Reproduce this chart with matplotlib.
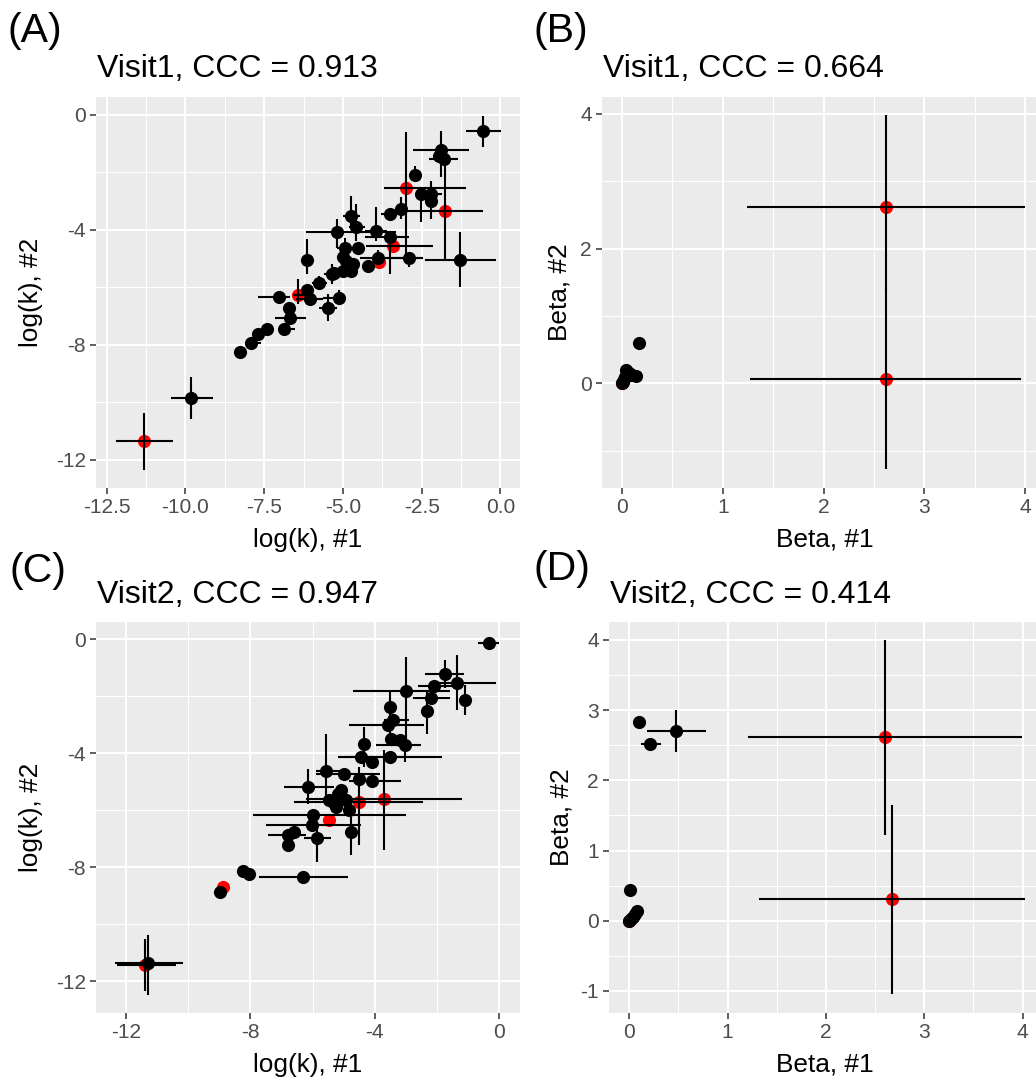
import numpy as np
import matplotlib
matplotlib.use("Agg")
import matplotlib.pyplot as plt
from matplotlib.ticker import FixedLocator

plt.rcParams["font.family"] = ["Liberation Sans", "DejaVu Sans"]

# ── Panel A: Visit1, log(k) ──────────────────────────────────────────────────
A_x   = [-11.32, -9.81, -8.26, -7.92, -7.70, -7.40, -6.88, -6.68, -6.71, -7.03,
         -6.43, -6.13, -6.06, -6.13, -5.76, -5.48, -5.13, -5.34, -5.00, -4.74,
         -4.95, -5.19, -4.74, -4.58, -4.53, -3.95, -3.89, -3.86, -3.52, -3.42,
         -2.89, -3.52, -3.15, -2.99, -2.70, -2.52, -2.19, -2.19, -1.75, -1.28,
         -1.89, -1.78, -0.57, -1.94, -4.69, -4.90, -5.27, -4.21, -5.00]
A_y   = [-11.36, -9.85, -8.26, -7.95, -7.64, -7.44, -7.44, -7.09, -6.71, -6.34,
         -6.27, -6.10, -6.42, -5.06, -5.87, -6.71, -6.36, -5.55, -5.43, -5.43,
         -4.62, -4.09, -3.51, -3.92, -4.62, -4.03, -4.97, -5.14, -4.27, -4.56,
         -5.00, -3.45, -3.28, -2.55, -2.08, -2.76, -2.76, -2.99, -3.36, -5.06,
         -1.24, -1.53, -0.55, -1.42, -5.20, -5.08, -5.49, -5.26, -4.95]
A_xlo = [-12.20, -10.47, -8.26, -8.12, -7.70, -7.40, -7.06, -7.17, -6.71, -7.70,
         -6.60, -6.13, -6.48, -6.13, -5.98, -5.75, -5.64, -5.60, -5.00, -4.74,
         -5.20, -6.16, -5.00, -4.80, -4.53, -4.30, -4.47, -3.86, -4.30, -4.28,
         -3.84, -3.80, -3.15, -3.70, -2.70, -2.52, -2.55, -2.19, -2.99, -2.38,
         -2.78, -2.26, -1.10, -1.94, -4.69, -4.90, -5.27, -4.21, -5.00]
A_xhi = [-10.39, -9.14, -8.26, -7.59, -7.70, -7.40, -6.53, -6.16, -6.71, -6.69,
         -6.20, -6.13, -5.64, -6.13, -5.50, -5.20, -4.90, -5.05, -5.00, -4.74,
         -4.70, -3.31, -4.45, -4.30, -4.53, -3.60, -2.47, -3.86, -2.90, -2.15,
         -2.47, -3.20, -3.15, -1.10, -2.70, -2.52, -1.85, -2.19, -0.57, -0.15,
         -0.99, -1.36, 0.02, -1.94, -4.69, -4.90, -5.27, -4.21, -5.00]
A_ylo = [-12.38, -10.60, -8.26, -7.95, -7.64, -7.44, -7.44, -7.09, -6.85, -6.34,
         -6.59, -6.10, -6.42, -5.55, -6.10, -7.17, -6.60, -5.90, -5.43, -5.43,
         -4.90, -4.62, -3.92, -4.40, -4.62, -4.38, -5.20, -5.14, -5.55, -4.56,
         -5.30, -3.45, -3.63, -5.02, -2.35, -3.74, -2.76, -3.63, -5.08, -6.01,
         -2.17, -1.53, -1.13, -1.42, -5.20, -5.08, -5.49, -5.26, -4.95]
A_yhi = [-10.38, -9.12, -8.26, -7.95, -7.64, -7.44, -7.44, -7.09, -6.55, -6.34,
         -5.73, -6.10, -6.42, -4.33, -5.60, -6.24, -6.10, -5.20, -5.43, -5.43,
         -4.30, -3.63, -2.81, -3.10, -4.62, -3.22, -4.70, -5.14, -4.03, -4.56,
         -4.80, -3.45, -2.87, -0.60, -1.77, -2.52, -2.76, -2.29, -1.13, -4.09,
         -0.55, -1.53, -0.03, -1.42, -5.20, -5.08, -5.49, -5.26, -4.95]
A_red = [1, 0, 0, 0, 0, 0, 0, 0, 0, 0,
         1, 0, 0, 0, 0, 0, 0, 0, 0, 0,
         0, 0, 0, 0, 0, 0, 0, 1, 0, 1,
         0, 0, 0, 1, 0, 0, 0, 0, 1, 0,
         0, 0, 0, 0, 0, 0, 0, 0, 0]

# ── Panel B: Visit1, Beta ────────────────────────────────────────────────────
B_x   = [2.617, 2.617, 0.00, 0.169, 0.00, 0.04, 0.14, 0.02, 0.01, 0.07, 0.10, 0.03]
B_y   = [2.614, 0.059, 0.00, 0.594, 0.00, 0.20, 0.11, 0.06, 0.02, 0.15, 0.12, 0.10]
B_xlo = [1.244, 1.274, 0.00, 0.169, 0.00, 0.04, 0.14, 0.02, 0.01, 0.07, 0.10, 0.03]
B_xhi = [3.996, 3.966, 0.00, 0.169, 0.00, 0.04, 0.14, 0.02, 0.01, 0.07, 0.10, 0.03]
B_ylo = [1.380, -1.277, 0.00, 0.594, 0.00, 0.20, 0.11, 0.06, 0.02, 0.15, 0.12, 0.10]
B_yhi = [3.985, 1.420, 0.00, 0.594, 0.00, 0.20, 0.11, 0.06, 0.02, 0.15, 0.12, 0.10]
B_red = [1, 1, 1, 0, 0, 0, 0, 0, 0, 0, 0, 0]

# ── Panel C: Visit2, log(k) ──────────────────────────────────────────────────
C_x   = [-11.37, -11.30, -8.89, -8.97, -8.25, -8.06, -6.32, -6.78, -6.80, -6.59,
         -5.86, -6.02, -6.00, -5.46, -6.16, -5.57, -4.98, -5.19, -5.35, -4.82,
         -4.52, -4.77, -4.50, -4.44, -4.34, -4.09, -4.09, -3.71, -3.53, -3.48,
         -3.59, -3.43, -3.50, -3.05, -3.21, -3.00, -2.32, -2.19, -2.09, -1.76,
         -1.37, -1.12, -0.34, -5.09, -5.46, -4.93, -5.25]
C_y   = [-11.42, -11.34, -8.70, -8.85, -8.14, -8.23, -8.35, -7.23, -6.88, -6.76,
         -6.98, -6.53, -6.18, -6.33, -5.18, -4.63, -4.71, -5.42, -5.71, -6.00,
         -5.71, -6.76, -4.89, -4.13, -3.66, -4.30, -4.97, -5.59, -4.13, -3.48,
         -3.01, -2.84, -2.39, -3.72, -3.54, -1.82, -2.52, -2.04, -1.64, -1.22,
         -1.52, -2.11, -0.14, -5.30, -5.65, -5.65, -5.88]
C_xlo = [-12.27, -12.34, -8.89, -8.97, -8.25, -8.06, -7.73, -6.78, -7.44, -6.59,
         -6.27, -7.50, -7.93, -5.46, -6.91, -5.90, -5.89, -5.19, -6.60, -4.82,
         -4.52, -4.77, -4.50, -5.19, -4.34, -4.09, -4.82, -6.21, -5.14, -3.48,
         -4.84, -3.70, -3.50, -3.96, -3.21, -4.71, -2.32, -2.78, -2.62, -2.38,
         -2.21, -1.12, -0.69, -5.09, -5.46, -4.93, -5.25]
C_xhi = [-10.39, -10.15, -8.89, -8.97, -8.25, -8.06, -4.87, -6.78, -6.21, -6.59,
         -5.41, -4.44, -3.00, -5.46, -5.30, -5.03, -3.85, -5.19, -2.46, -4.82,
         -4.52, -4.77, -4.50, -3.00, -4.34, -4.09, -3.16, -1.20, -1.84, -3.48,
         -2.41, -2.90, -3.50, -2.51, -3.21, -1.60, -2.32, -1.60, -1.39, -1.15,
         -0.10, -1.12, 0.00, -5.09, -5.46, -4.93, -5.25]
C_ylo = [-12.33, -12.47, -8.70, -8.85, -8.14, -8.23, -8.35, -7.23, -6.88, -6.76,
         -7.82, -6.53, -6.18, -6.33, -5.77, -5.77, -4.71, -5.42, -5.71, -6.00,
         -7.23, -7.58, -4.89, -4.13, -4.48, -4.30, -4.97, -7.39, -4.13, -3.48,
         -3.01, -2.84, -3.42, -4.30, -3.54, -3.89, -3.31, -2.04, -1.64, -1.72,
         -2.49, -2.66, -0.14, -5.30, -5.65, -5.65, -5.88]
C_yhi = [-10.52, -10.36, -8.70, -8.85, -8.14, -8.23, -8.35, -7.23, -6.88, -6.76,
         -6.47, -6.53, -6.18, -6.33, -4.54, -3.31, -4.71, -5.42, -5.71, -6.00,
         -4.48, -6.00, -4.89, -4.13, -3.07, -4.30, -4.97, -3.89, -4.13, -3.48,
         -3.01, -2.84, -1.78, -3.40, -3.54, -0.61, -1.78, -2.04, -1.64, -0.73,
         -0.55, -1.61, -0.14, -5.30, -5.65, -5.65, -5.88]
C_red = [1, 0, 1, 0, 0, 0, 0, 0, 0, 0,
         0, 0, 0, 1, 0, 0, 0, 0, 0, 0,
         1, 0, 0, 0, 0, 0, 0, 1, 0, 0,
         0, 0, 0, 0, 0, 0, 0, 0, 0, 0,
         0, 0, 0, 0, 0, 0, 0]

# ── Panel D: Visit2, Beta ────────────────────────────────────────────────────
D_x   = [2.600, 2.668, 0.00, 0.102, 0.21, 0.475, 0.007, 0.075, 0.04, 0.00, 0.02, 0.06]
D_y   = [2.616, 0.309, 0.00, 2.83, 2.52, 2.70, 0.432, 0.133, 0.06, 0.00, 0.03, 0.10]
D_xlo = [1.210, 1.319, 0.00, 0.102, 0.115, 0.176, 0.007, 0.075, 0.04, 0.00, 0.02, 0.06]
D_xhi = [3.997, 4.024, 0.00, 0.102, 0.320, 0.776, 0.007, 0.075, 0.04, 0.00, 0.02, 0.06]
D_ylo = [1.225, -1.045, 0.00, 2.83, 2.52, 2.40, 0.432, 0.133, 0.06, 0.00, 0.03, 0.10]
D_yhi = [4.000, 1.652, 0.00, 2.83, 2.52, 3.00, 0.432, 0.133, 0.06, 0.00, 0.03, 0.10]
D_red = [1, 1, 1, 0, 0, 0, 0, 0, 0, 0, 0, 0]

W, H = 1036, 1078
BG = "#EBEBEB"


def px(x0, y0, x1, y1):
    """pixel box (left, top, right, bottom) -> figure axes rect"""
    return [x0 / W, 1 - y1 / H, (x1 - x0) / W, (y1 - y0) / H]


def panel(fig, rect, x, y, xlo, xhi, ylo, yhi, red,
          xlim, ylim, xmaj, xmin, ymaj, ymin, xlabels, ylabels):
    ax = fig.add_axes(rect)
    ax.set_facecolor(BG)
    for s in ax.spines.values():
        s.set_visible(False)
    ax.set_xlim(*xlim); ax.set_ylim(*ylim)
    ax.xaxis.set_major_locator(FixedLocator(xmaj))
    ax.yaxis.set_major_locator(FixedLocator(ymaj))
    ax.xaxis.set_minor_locator(FixedLocator(xmin))
    ax.yaxis.set_minor_locator(FixedLocator(ymin))
    ax.set_xticklabels(xlabels); ax.set_yticklabels(ylabels)
    ax.set_axisbelow(True)
    ax.grid(which="major", color="white", lw=1.5)
    ax.grid(which="minor", color="white", lw=0.75)
    ax.tick_params(which="major", length=4.2, width=1.1, color="#333333",
                   labelsize=15.1, labelcolor="#4D4D4D", pad=3)
    ax.tick_params(which="minor", length=0)

    x = np.asarray(x); y = np.asarray(y); red = np.asarray(red, bool)
    ax.scatter(x[red], y[red], s=90, color="red", lw=0, zorder=3)
    ax.scatter(x[~red], y[~red], s=90, color="black", lw=0, zorder=4)
    ax.hlines(y, xlo, xhi, color="black", lw=1.5, zorder=5)
    ax.vlines(x, ylo, yhi, color="black", lw=1.5, zorder=5)
    return ax


fig = plt.figure(figsize=(W / 100, H / 100), dpi=100)

logx_maj = [-12.5, -10, -7.5, -5, -2.5, 0]
panel(fig, px(96, 97, 520, 487.7), A_x, A_y, A_xlo, A_xhi, A_ylo, A_yhi, A_red,
      (-12.84, 0.62), (-12.98, 0.62),
      logx_maj, [-11.25, -8.75, -6.25, -3.75, -1.25],
      [-12, -8, -4, 0], [-10, -6, -2],
      ["-12.5", "-10.0", "-7.5", "-5.0", "-2.5", "0.0"], ["-12", "-8", "-4", "0"])

panel(fig, px(602, 97, 1036, 487.7), B_x, B_y, B_xlo, B_xhi, B_ylo, B_yhi, B_red,
      (-0.20, 4.11), (-1.55, 4.25),
      [0, 1, 2, 3, 4], [0.5, 1.5, 2.5, 3.5],
      [0, 2, 4], [-1, 1, 3],
      ["0", "1", "2", "3", "4"], ["0", "2", "4"])

panel(fig, px(96, 621.7, 520, 1012.7), C_x, C_y, C_xlo, C_xhi, C_ylo, C_yhi, C_red,
      (-12.96, 0.66), (-13.1, 0.62),
      [-12, -8, -4, 0], [-10, -6, -2],
      [-12, -8, -4, 0], [-10, -6, -2],
      ["-12", "-8", "-4", "0"], ["-12", "-8", "-4", "0"])

panel(fig, px(609, 621.7, 1036, 1012.7), D_x, D_y, D_xlo, D_xhi, D_ylo, D_yhi, D_red,
      (-0.206, 4.137), (-1.31, 4.26),
      [0, 1, 2, 3, 4], [0.5, 1.5, 2.5, 3.5],
      [-1, 0, 1, 2, 3, 4], [-0.5, 0.5, 1.5, 2.5, 3.5],
      ["0", "1", "2", "3", "4"], ["-1", "0", "1", "2", "3", "4"])


def ftext(x, y, s, **kw):
    fig.text(x / W, 1 - y / H, s, **kw)


# tags
ftext(7, 42, "(A)", fontsize=29.5, va="baseline")
ftext(533, 42, "(B)", fontsize=29.5, va="baseline")
ftext(10, 582, "(C)", fontsize=29.5, va="baseline")
ftext(533, 580, "(D)", fontsize=29.5, va="baseline")

# titles
ftext(97, 77, "Visit1, CCC = 0.913", fontsize=23, va="baseline")
ftext(603, 77, "Visit1, CCC = 0.664", fontsize=23, va="baseline")
ftext(97, 603, "Visit2, CCC = 0.947", fontsize=23, va="baseline")
ftext(610, 603, "Visit2, CCC = 0.414", fontsize=23, va="baseline")

# axis titles
for xc, yb, s in [(308, 546.7, "log(k), #1"), (825, 546.7, "Beta, #1"),
                  (308, 1071.7, "log(k), #1"), (825, 1071.7, "Beta, #1")]:
    ftext(xc, yb, s, fontsize=18.9, ha="center", va="baseline")
for xc, yc, s in [(31, 292, "log(k), #2"), (560, 292, "Beta, #2"),
                  (31, 817, "log(k), #2"), (562, 817, "Beta, #2")]:
    ftext(xc, yc, s, fontsize=18.9, ha="center", va="center", rotation=90)

fig.savefig("out.png", dpi=100)
